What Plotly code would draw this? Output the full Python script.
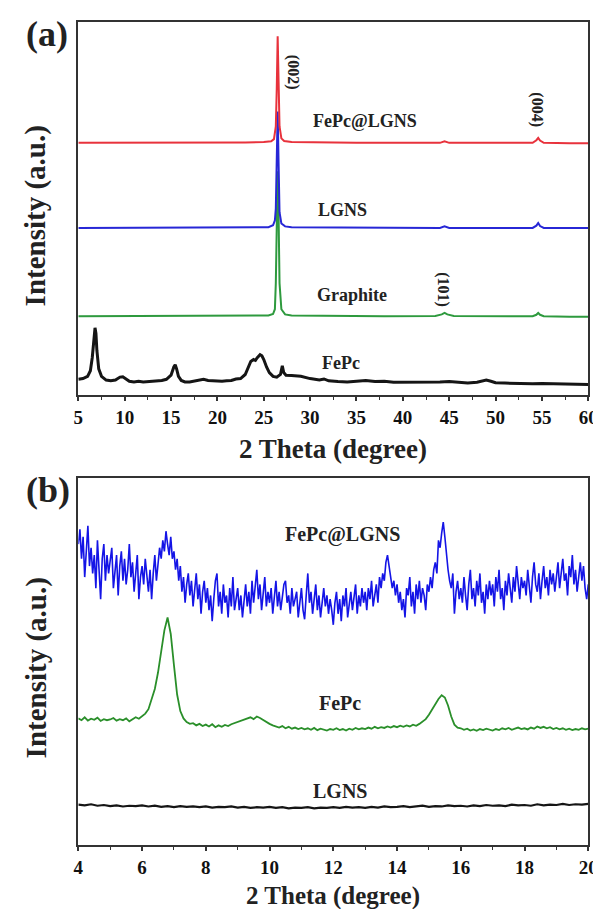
import plotly.graph_objects as go

# ---------------- Panel (a) data (2 Theta, offset intensity a.u.) ----------------
A_RED_X = [5, 8, 12, 16, 20, 23, 25, 25.8, 26.1, 26.3, 26.4, 26.5, 26.6, 26.7, 26.9, 27.2, 28, 30, 35, 40, 44,
           44.5, 45, 50, 54, 54.4, 54.6, 54.8, 55.2, 58, 60]
A_RED_Y = [67.6, 67.6, 67.6, 67.5, 67.6, 67.7, 67.8, 68.0, 68.6, 72, 82, 96.2, 84, 72, 68.8, 68.1, 67.8, 67.7,
           67.6, 67.6, 67.6, 68.0, 67.6, 67.6, 67.6, 68.3, 68.9, 68.2, 67.6, 67.5, 67.5]

A_BLUE_X = [5, 10, 15, 20, 24, 25.5, 26.0, 26.2, 26.3, 26.4, 26.5, 26.6, 26.7, 26.9, 27.3, 28, 32, 38, 44,
            44.5, 45, 50, 54, 54.4, 54.6, 54.8, 55.2, 58, 60]
A_BLUE_Y = [44.8, 44.8, 44.8, 44.8, 44.9, 45.0, 45.5, 46.8, 50, 62, 76, 62, 49, 46, 45.2, 45.0, 44.9, 44.8, 44.8,
            45.2, 44.8, 44.8, 44.8, 45.4, 46.1, 45.3, 44.8, 44.8, 44.8]

A_GREEN_X = [5, 10, 15, 20, 24, 25.5, 26.0, 26.2, 26.3, 26.4, 26.5, 26.6, 26.7, 26.9, 27.3, 28, 32, 38, 43.5,
             44.2, 44.5, 44.8, 45.5, 50, 54, 54.4, 54.6, 54.8, 55.2, 58, 60]
A_GREEN_Y = [21.1, 21.1, 21.1, 21.1, 21.2, 21.3, 21.7, 23, 30, 48, 60, 48, 30, 23, 21.6, 21.3, 21.2, 21.1, 21.2,
             21.6, 22.0, 21.6, 21.2, 21.1, 21.1, 21.5, 22.0, 21.5, 21.1, 21.0, 21.0]

A_BLACK_X = [5.0, 5.5, 6.0, 6.3, 6.5, 6.7, 6.8, 6.9, 7.0, 7.2, 7.5, 8.0, 8.5, 9.0, 9.5, 9.8, 10.2, 10.5, 11,
             11.5, 12, 12.5, 13, 13.5, 14, 14.5, 15.0, 15.3, 15.45, 15.6, 15.8, 16.1, 16.5, 17, 17.5, 18, 18.5,
             19, 19.5, 20, 20.5, 21, 21.5, 22, 22.5, 23.0, 23.3, 23.6, 23.9, 24.1, 24.3, 24.6, 24.8, 25.0, 25.3,
             25.6, 26.0, 26.4, 26.8, 27.0, 27.15, 27.4, 28, 29, 30, 31, 31.5, 32, 33, 34, 35, 36, 37, 38, 39,
             40, 41, 42, 43, 44, 45, 46, 47, 48, 49, 49.5, 50, 51, 52, 53, 54, 55, 56, 57, 58, 59, 60]
A_BLACK_Y = [4.2, 4.4, 5.0, 6.5, 10, 16, 18, 16.5, 12, 7, 5, 4.0, 3.8, 4.0, 4.8, 4.9, 4.2, 3.7, 3.5,
             3.7, 3.5, 3.6, 3.6, 3.7, 3.9, 4.2, 5.3, 7.5, 8.1, 7.0, 5.0, 3.9, 3.5, 3.5, 3.8, 4.0, 4.2,
             3.9, 3.8, 3.6, 3.7, 3.8, 3.9, 4.3, 4.4, 5.5, 7.5, 9.0, 9.5, 9.3, 10, 10.8, 10.5, 9.5, 7.5,
             6.0, 5.0, 4.8, 5.5, 7.8, 6.0, 5.3, 5.2, 5.0, 4.4, 4.0, 4.3, 3.8, 3.6, 3.5, 3.7, 3.9, 3.6, 3.7, 3.4,
             3.4, 3.3, 3.5, 3.4, 3.5, 3.6, 3.5, 3.2, 3.4, 4.0, 3.7, 3.3, 3.2, 3.1, 3.1, 3.0, 3.1, 3.0, 3.1, 2.9,
             2.8, 2.8]

A_XTICKS = [5, 10, 15, 20, 25, 30, 35, 40, 45, 50, 55, 60]

# ---------------- Panel (b) data ----------------
B_BLUE_START, B_BLUE_STEP = 4.0, 0.05
B_BLUE_Y = [
    82, 86, 78, 84, 73, 80, 87, 76, 81, 74, 79, 70, 83, 75, 67, 78, 82, 72, 79, 74,
    77, 81, 70, 75, 79, 68, 76, 80, 72, 78, 71, 75, 82, 73, 77, 69, 74, 79, 67, 73,
    76, 71, 78, 73, 69, 75, 67, 74, 79, 72, 77, 81, 78, 83, 80, 85.5, 82, 79, 84, 78,
    80, 75, 78, 72, 76, 69, 73, 66, 71, 74, 68, 72, 65, 70, 74, 67, 71, 63, 69, 72,
    66, 70, 64, 68, 61, 67, 72, 74, 65, 69, 63, 71, 66, 68, 62, 70, 65, 73, 64, 67,
    70, 64, 68, 62, 67, 71, 65, 69, 63, 72, 66, 70, 75, 67, 71, 64, 68, 73, 65, 69,
    66, 70, 63, 68, 72, 65, 69, 64, 67, 71, 72, 66, 68, 63, 70, 65, 67, 69, 62, 67,
    70, 64, 61.5, 68, 74, 66, 69, 63, 67, 71, 64, 68, 62, 66, 70, 65, 68, 63, 67, 64,
    60, 66, 69, 63, 67, 61, 68, 65, 70, 62, 66, 69, 64, 67, 71, 63, 68, 65, 70, 66,
    69, 64, 70, 67, 72, 65, 68, 71, 66, 73, 70, 74, 72, 77, 79, 76, 73, 70, 72, 68,
    71, 66, 69, 64, 67, 62, 70, 68, 73, 65, 69, 63, 71, 67, 72, 66, 70, 68, 64, 71,
    69, 73, 70, 75, 77, 74, 83, 81, 85, 88, 84, 79, 75, 72, 70, 74, 63, 69, 72, 67,
    70, 66, 73, 68, 64, 71, 75, 67, 70, 65, 72, 68, 74, 66, 69, 63, 71, 67, 72, 68,
    71, 65, 73, 69, 75, 67, 70, 64, 72, 68, 74, 70, 66, 73, 69, 76, 71, 67, 73, 70,
    72, 68, 75, 70, 66, 73, 77, 71, 69, 74, 67, 72, 76, 70, 73, 68, 75, 71, 74, 69,
    73, 77, 70, 75, 78, 72, 74, 68, 76, 73, 79, 71, 75, 69, 74, 77, 72, 76, 70, 67,
    71,
]

B_GREEN_START, B_GREEN_STEP = 4.0, 0.1
B_GREEN_Y = [
    34.5, 34.0, 34.8, 33.9, 34.4, 34.1, 34.7, 33.8, 34.3, 34.0,
    34.2, 34.6, 33.9, 34.3, 34.0, 34.5, 33.7, 34.2, 34.8, 34.4,
    35.0, 35.8, 37.0, 39.5, 42.5, 47.0, 52.5, 58.5, 62.0, 57.5,
    49.0, 41.0, 36.5, 34.5, 33.5, 33.0, 33.2, 32.6, 33.0, 32.4,
    32.8, 32.3, 32.9, 32.1, 32.6, 32.2, 32.7, 32.4, 32.9, 33.2,
    33.4, 33.8, 34.0, 34.5, 34.8, 34.3, 35.0, 34.6, 34.0, 33.5,
    33.0, 32.6, 32.3, 32.0, 32.4, 31.8, 32.2, 31.7, 32.0, 31.6,
    31.9, 31.5, 31.8, 31.4, 31.9, 31.3, 31.7, 31.5, 31.2, 31.6,
    31.4, 31.8, 31.3, 31.6, 31.2, 31.7, 31.4, 31.9, 31.5, 31.8,
    31.6, 32.0, 31.7, 32.2, 31.8, 32.1, 31.9, 32.3, 32.0, 32.4,
    32.1, 32.5, 32.2, 32.6, 32.3, 32.8, 32.5, 33.0, 33.6, 34.3,
    35.5, 37.0, 38.6, 39.8, 40.8, 40.2, 38.0, 35.0, 32.8, 32.0,
    31.8, 31.4, 31.7, 31.2, 31.5, 31.1, 31.6, 31.3, 31.7, 31.4,
    31.2, 31.6, 31.3, 31.8, 31.5, 31.9, 31.4, 31.7, 32.0, 31.6,
    31.8, 31.5, 32.0, 31.7, 32.3, 31.9, 32.2, 31.8, 32.1, 31.6,
    31.9, 31.5, 31.8, 31.4, 31.7, 31.3, 31.6, 31.4, 31.8, 31.5,
    31.7,
]

B_BLACK_START, B_BLACK_STEP = 4.0, 0.2
B_BLACK_Y = [
    11.0, 10.8, 11.1, 10.7, 10.9, 10.6, 10.8, 10.5, 10.7, 10.6,
    10.8, 10.5, 10.7, 10.4, 10.6, 10.3, 10.6, 10.4, 10.5, 10.3,
    10.5, 10.2, 10.4, 10.3, 10.5, 10.2, 10.4, 10.1, 10.3, 10.2,
    10.4, 10.1, 10.3, 10.0, 10.2, 10.1, 10.3, 10.0, 10.2, 10.1,
    10.3, 10.1, 10.4, 10.2, 10.3, 10.1, 10.4, 10.2, 10.5, 10.3,
    10.4, 10.6, 10.3, 10.5, 10.7, 10.4, 10.6, 10.5, 10.8, 10.6,
    10.7, 10.5, 10.8, 10.6, 10.9, 10.7, 10.8, 10.6, 11.0, 10.8,
    10.9, 10.7, 11.1, 10.8, 11.0, 10.9, 11.2, 10.9, 11.1, 11.0,
    11.2,
]

B_XTICKS = [4, 6, 8, 10, 12, 14, 16, 18, 20]


def grid(start, step, n):
    return [round(start + step * i, 3) for i in range(n)]


W, H = 601, 909
FONT = "Liberation Serif"


def py(px):  # pixel row -> paper y
    return 1 - px / H


def pxx(px):  # pixel col -> paper x
    return px / W


fig = go.Figure()

# Panel (a) traces
fig.add_trace(go.Scatter(x=A_BLACK_X, y=A_BLACK_Y, mode="lines", line=dict(color="#151515", width=3),
                         xaxis="x", yaxis="y", showlegend=False))
fig.add_trace(go.Scatter(x=A_GREEN_X, y=A_GREEN_Y, mode="lines", line=dict(color="#2e9a3e", width=2),
                         xaxis="x", yaxis="y", showlegend=False))
fig.add_trace(go.Scatter(x=A_BLUE_X, y=A_BLUE_Y, mode="lines", line=dict(color="#2727d6", width=2),
                         xaxis="x", yaxis="y", showlegend=False))
fig.add_trace(go.Scatter(x=A_RED_X, y=A_RED_Y, mode="lines", line=dict(color="#e8323c", width=2),
                         xaxis="x", yaxis="y", showlegend=False))

# Panel (b) traces
fig.add_trace(go.Scatter(x=grid(B_BLACK_START, B_BLACK_STEP, len(B_BLACK_Y)), y=B_BLACK_Y, mode="lines",
                         line=dict(color="#151515", width=2.2), xaxis="x2", yaxis="y2", showlegend=False))
fig.add_trace(go.Scatter(x=grid(B_GREEN_START, B_GREEN_STEP, len(B_GREEN_Y)), y=B_GREEN_Y, mode="lines",
                         line=dict(color="#2a8f2a", width=1.8), xaxis="x2", yaxis="y2", showlegend=False))
fig.add_trace(go.Scatter(x=grid(B_BLUE_START, B_BLUE_STEP, len(B_BLUE_Y)), y=B_BLUE_Y, mode="lines",
                         line=dict(color="#1414e6", width=1.6), xaxis="x2", yaxis="y2", showlegend=False))

xdom = [pxx(67), pxx(590)]
axis_common = dict(showgrid=False, zeroline=False, showline=True, linecolor="#333", linewidth=2,
                   mirror=True, ticks="outside", ticklen=4, tickwidth=1.5, tickcolor="#333",
                   tickfont=dict(family=FONT, size=19, color="#111", weight="bold"))
yaxis_common = dict(showgrid=False, zeroline=False, showline=True, linecolor="#333", linewidth=2,
                    mirror=True, showticklabels=False, ticks="", range=[0, 100], fixedrange=True)

fig.update_layout(
    width=W, height=H, margin=dict(l=0, r=0, t=0, b=0),
    paper_bgcolor="white", plot_bgcolor="white",
    xaxis=dict(domain=xdom, anchor="y", range=[5, 60], tickvals=A_XTICKS,
               minor=dict(dtick=2.5, tick0=5, ticks="outside", ticklen=3, tickwidth=1.2, tickcolor="#333"),
               **axis_common),
    yaxis=dict(domain=[py(387), py(14)], anchor="x", **yaxis_common),
    xaxis2=dict(domain=xdom, anchor="y2", range=[4, 20], tickvals=B_XTICKS,
                minor=dict(dtick=1, tick0=4, ticks="outside", ticklen=3, tickwidth=1.2, tickcolor="#333"),
                **axis_common),
    yaxis2=dict(domain=[py(837), py(470)], anchor="x2", **yaxis_common),
)

ann = []


def txt(text, x, y, xref, yref, size, angle=0):
    ann.append(dict(text=f"<b>{text}</b>", x=x, y=y, xref=xref, yref=yref, showarrow=False,
                    textangle=angle, font=dict(family=FONT, size=size, color="#222"),
                    xanchor="center", yanchor="middle"))


# Panel (a) labels
txt("FePc@LGNS", 35.9, 73.4, "x", "y", 18)
txt("LGNS", 33.5, 49.7, "x", "y", 18)
txt("Graphite", 34.5, 26.9, "x", "y", 18)
txt("FePc", 33.3, 8.6, "x", "y", 18)
txt("(002)", 28.1, 86.5, "x", "y", 16, 90)
txt("(004)", 54.5, 76.5, "x", "y", 16, 90)
txt("(101)", 44.4, 28.2, "x", "y", 16, 90)

# Panel (b) labels
txt("FePc@LGNS", 12.3, 84.6, "x2", "y2", 20)
txt("FePc", 12.2, 38.6, "x2", "y2", 20)
txt("LGNS", 12.2, 14.8, "x2", "y2", 20)

# Titles / panel letters
txt("(a)", pxx(35), py(26), "paper", "paper", 36)
txt("(b)", pxx(36), py(482), "paper", "paper", 36)
txt("2 Theta (degree)", pxx(328), py(441), "paper", "paper", 27)
txt("2 Theta (degree)", pxx(328), py(888), "paper", "paper", 25)
txt("Intensity (a.u.)", pxx(24), py(208), "paper", "paper", 29, -90)
txt("Intensity (a.u.)", pxx(24), py(660), "paper", "paper", 29, -90)

fig.update_layout(annotations=ann)
fig.write_html("out.html")
